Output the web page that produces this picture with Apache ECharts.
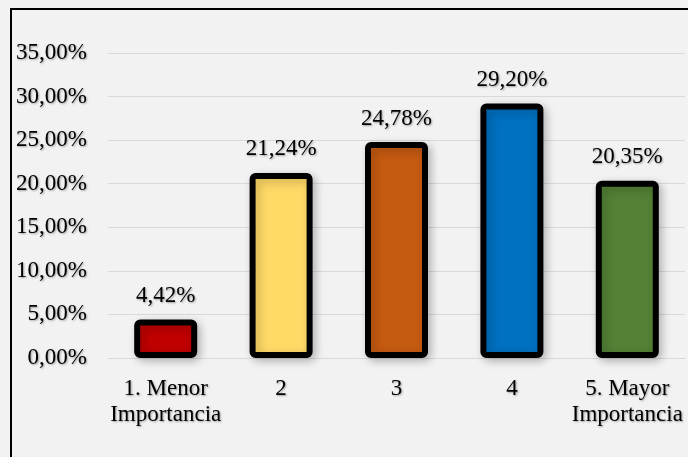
<!DOCTYPE html>
<html>
<head>
<meta charset="utf-8">
<script src="https://cdn.jsdelivr.net/npm/echarts@6/dist/echarts.min.js"></script>
<style>
  html, body { margin: 0; padding: 0; background: #f2f2f2; }
  #chart { width: 688px; height: 457px; }
</style>
</head>
<body>
<div id="chart"></div>
<script>
// chart data
var categories = ['1. Menor\nImportancia', '2', '3', '4', '5. Mayor\nImportancia'];
var values = [4.42, 21.24, 24.78, 29.20, 20.35];
var barColors = ['#c00000', '#ffd966', '#c55a11', '#0070c0', '#538135'];

var font = 'Liberation Serif, Times New Roman, serif';
var shadowText = {
    textShadowColor: 'rgba(0,0,0,0.35)',
    textShadowBlur: 2,
    textShadowOffsetX: 1,
    textShadowOffsetY: 1
};

function pct(v) {
    return v.toFixed(2).replace('.', ',') + '%';
}

var chart = echarts.init(document.getElementById('chart'));

var option = {
    backgroundColor: '#f2f2f2',
    animation: false,
    grid: { left: 108, right: 3, top: 53, bottom: 99, containLabel: false },
    graphic: [
        { type: 'line', shape: { x1: 10, y1: 9, x2: 688, y2: 9 }, style: { stroke: '#000', lineWidth: 2 } },
        { type: 'line', shape: { x1: 11, y1: 8, x2: 11, y2: 457 }, style: { stroke: '#000', lineWidth: 2 } }
    ],
    xAxis: {
        type: 'category',
        data: categories,
        axisLine: { show: true, lineStyle: { color: '#d9d9d9', width: 1 } },
        axisTick: { show: false },
        axisLabel: Object.assign({
            color: '#000',
            fontFamily: font,
            fontSize: 23,
            lineHeight: 26,
            margin: 18,
            interval: 0
        }, shadowText)
    },
    yAxis: {
        type: 'value',
        min: 0,
        max: 35,
        interval: 5,
        axisLine: { show: false },
        axisTick: { show: false },
        splitLine: { lineStyle: { color: '#d9d9d9', width: 1 } },
        axisLabel: Object.assign({
            color: '#000',
            fontFamily: font,
            fontSize: 23,
            margin: 21,
            formatter: function(v) { return pct(v); }
        }, shadowText)
    },
    series: [{
        type: 'bar',
        barWidth: 63,
        data: values.map(function(v, i) {
            return { value: v, itemStyle: { color: barColors[i] } };
        }),
        itemStyle: {
            borderColor: '#000',
            borderWidth: 6,
            borderRadius: 3,
            shadowColor: 'rgba(0,0,0,0.22)',
            shadowBlur: 10,
            shadowOffsetX: 3,
            shadowOffsetY: 3
        },
        label: Object.assign({
            show: true,
            position: 'top',
            distance: 12,
            color: '#000',
            fontFamily: font,
            fontSize: 23,
            formatter: function(p) { return pct(p.value); }
        }, shadowText)
    }]
};

chart.setOption(option);
</script>
</body>
</html>
